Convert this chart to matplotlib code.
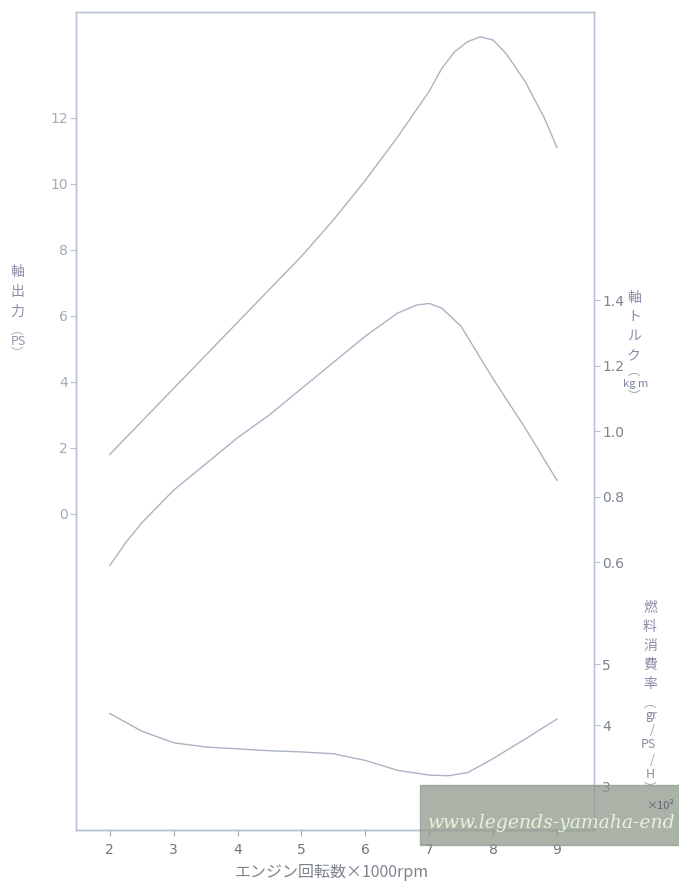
import numpy as np
import matplotlib
matplotlib.use("Agg")
import matplotlib.pyplot as plt
from matplotlib.patches import Rectangle

plt.rcParams['font.family'] = ['DejaVu Sans', 'Noto Sans CJK JP']

# engine speed x1000 rpm
rpm = [2, 2.5, 3, 3.5, 4, 4.5, 5, 5.5, 6, 6.5, 7, 7.2, 7.4, 7.6, 7.8, 8.0, 8.2, 8.5, 8.8, 9]
# shaft output (PS)
power = [1.8, 2.8, 3.8, 4.8, 5.8, 6.8, 7.8, 8.9, 10.1, 11.4, 12.8, 13.5, 14.0, 14.3, 14.45, 14.35, 13.95, 13.1, 12.0, 11.1]

rpm_t = [2, 2.25, 2.5, 3, 3.5, 4, 4.5, 5, 5.5, 6, 6.5, 6.8, 7, 7.2, 7.5, 8, 8.5, 9]
# shaft torque (kg-m)
torque = [0.59, 0.66, 0.72, 0.82, 0.90, 0.98, 1.05, 1.13, 1.21, 1.29, 1.36, 1.385, 1.39, 1.375, 1.32, 1.16, 1.01, 0.85]

rpm_f = [2, 2.5, 3, 3.5, 4, 4.5, 5, 5.5, 6, 6.5, 7, 7.3, 7.6, 8, 8.5, 9]
# fuel consumption rate (gr/PS/H x10^2)
bsfc = [4.19, 3.9, 3.71, 3.64, 3.61, 3.58, 3.56, 3.53, 3.42, 3.26, 3.18, 3.17, 3.22, 3.45, 3.77, 4.1]

x_ticks = [2, 3, 4, 5, 6, 7, 8, 9]
p_ticks = [0, 2, 4, 6, 8, 10, 12]
t_ticks = [0.6, 0.8, 1.0, 1.2, 1.4]
f_ticks = [3, 4, 5]

W, H = 679, 890
line_c = '#aab3c3'
spine_c = '#b8c2d4'
jp = ['Noto Sans CJK JP', 'DejaVu Sans']

fig = plt.figure(figsize=(W / 100, H / 100), dpi=100)
ax = fig.add_axes([76 / W, (H - 830) / H, (594 - 76) / W, (830 - 12) / H])
ax2 = ax.twinx()
ax3 = ax.twinx()

ax.plot(rpm, power, color=line_c, lw=1.0)
ax2.plot(rpm_t, torque, color=line_c, lw=1.0)
ax3.plot(rpm_f, bsfc, color=line_c, lw=1.0)

ax.set_xlim(1.47, 9.58)
ax.set_ylim(-9.58, 15.2)
ax2.set_ylim(-0.218, 2.28)
ax3.set_ylim(2.28, 15.69)

ax.set_xticks(x_ticks)
ax.set_yticks(p_ticks)
ax2.set_yticks(t_ticks)
ax2.set_yticklabels(['0.6', '0.8', '1.0', '1.2', '1.4'])
ax3.set_yticks(f_ticks)

for a in (ax, ax2, ax3):
    for s in a.spines.values():
        s.set_color(spine_c)
        s.set_linewidth(0.9)
    a.tick_params(colors=spine_c, labelsize=10, length=4, width=0.8, pad=2)
ax.spines['bottom'].set_color('#8e929a')
ax.tick_params(axis='x', colors='#a0a4ac', labelcolor='#6f747e', pad=5)
ax.tick_params(axis='y', labelcolor='#a4aab8')
ax2.tick_params(labelcolor='#7d828c')
ax3.tick_params(labelcolor='#7d828c')


def put(x, y, s, **kw):
    fig.text(x / W, 1 - y / H, s, ha='center', va='center', **kw)


def vtext(x, y0, chars, step, **kw):
    for i, ch in enumerate(chars):
        put(x, y0 + i * step, ch, **kw)


jk = dict(family=jp, fontsize=10, color='#8f8aa8')

# left label
vtext(17, 272, "軸出力", 20, **jk)
put(17, 330, "︵", family=jp, fontsize=9, color='#9fb3a8')
put(18, 342, "PS", family=jp, fontsize=9, color='#8f98a8')
put(17, 354, "︶", family=jp, fontsize=9, color='#9fb3a8')

# torque label
vtext(634, 298, "軸トルク", 19, **jk)
put(634, 371, "︵", family=jp, fontsize=9, color='#9aa0ae')
put(636, 384, "kg m", family=jp, fontsize=8, color='#7f86a0')
put(634, 397, "︶", family=jp, fontsize=9, color='#9aa0ae')

# fuel consumption label
vtext(650, 608, "燃料消費率", 19, **jk)
put(650, 703, "︵", family=jp, fontsize=9, color='#9aa0ae')
put(651, 716, "gr", family=jp, fontsize=9, color='#7f86a0')
put(652, 730, "/", family=jp, fontsize=9, color='#9aa0ae')
put(648, 745, "PS", family=jp, fontsize=9, color='#8a90a0')
put(652, 760, "/", family=jp, fontsize=9, color='#9aa0ae')
put(650, 775, "H", family=jp, fontsize=9, color='#8a90a0')
put(650, 789, "︶", family=jp, fontsize=9, color='#9aa0ae')

# x axis title
put(332, 872, "エンジン回転数×1000rpm", family=jp, fontsize=11.5, color='#7d828c')

# scan watermark
fig.patches.append(Rectangle((420 / W, 1 - 845 / H), (W - 420) / W, 60 / H,
                             transform=fig.transFigure, color='#8f9a8c', alpha=0.75, zorder=5))
fig.text(428 / W, 1 - 823 / H, "www.legends-yamaha-end", fontsize=13.5, style='italic',
         family='DejaVu Serif', color='#e6f2dd', va='center', ha='left', zorder=6)
fig.text(660 / W, 1 - 806 / H, "×10²", family=jp, fontsize=8, color='#5f6670',
         ha='center', va='center', zorder=7)

fig.savefig('out.png', dpi=100)
